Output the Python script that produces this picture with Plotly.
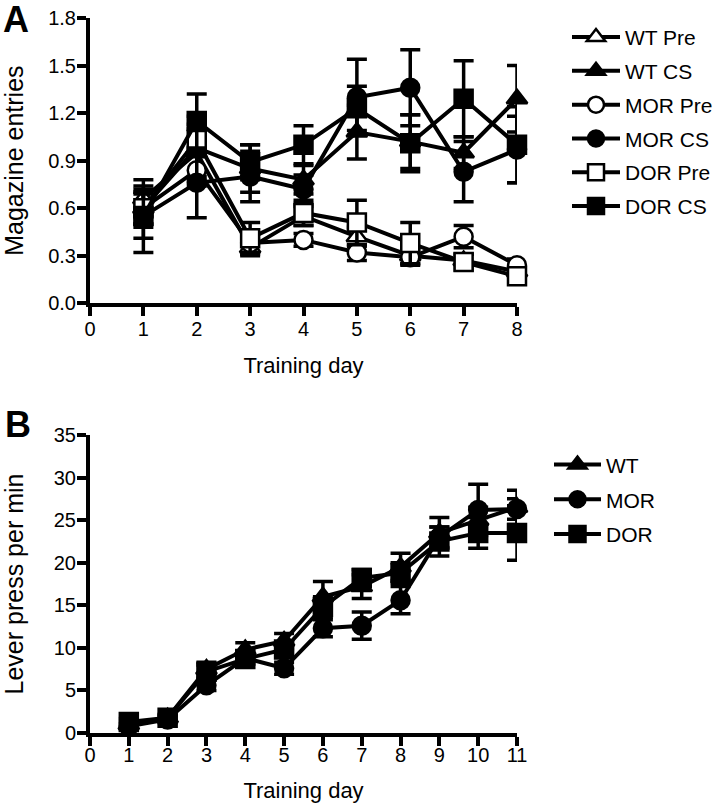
import plotly.graph_objects as go

# Panel A: magazine entries, training days 1-8
days_a = [1, 2, 3, 4, 5, 6, 7, 8]
wt_pre = [0.66, 0.95, 0.35, 0.55, 0.42, 0.30, 0.27, 0.20]
wt_pre_err = [0.08, 0.15, 0.05, 0.06, 0.06, 0.05, 0.04, 0.04]
wt_cs = [0.60, 0.98, 0.85, 0.78, 1.08, 1.02, 0.95, 1.29]
wt_cs_err = [0.12, 0.20, 0.15, 0.09, 0.17, 0.17, 0.10, 0.21]
mor_pre = [0.60, 0.84, 0.38, 0.40, 0.32, 0.29, 0.42, 0.24]
mor_pre_err = [0.10, 0.10, 0.06, 0.04, 0.05, 0.05, 0.07, 0.04]
mor_cs = [0.55, 0.76, 0.80, 0.72, 1.30, 1.36, 0.83, 0.97]
mor_cs_err = [0.23, 0.22, 0.16, 0.09, 0.24, 0.24, 0.19, 0.21]
dor_pre = [0.60, 1.03, 0.41, 0.57, 0.51, 0.38, 0.26, 0.17]
dor_pre_err = [0.10, 0.10, 0.10, 0.08, 0.14, 0.13, 0.05, 0.05]
dor_cs = [0.55, 1.15, 0.89, 1.00, 1.23, 1.01, 1.29, 1.00]
dor_cs_err = [0.14, 0.17, 0.11, 0.12, 0.14, 0.18, 0.24, 0.24]

# Panel B: lever presses per min, training days 1-11
days_b = [1, 2, 3, 4, 5, 6, 7, 8, 9, 10, 11]
wt_lp = [1.0, 1.8, 7.5, 9.8, 10.8, 16.0, 17.2, 19.5, 23.5, 25.0, 26.5]
wt_lp_err = [0.3, 0.4, 0.8, 0.8, 0.9, 1.8, 1.4, 1.6, 1.8, 1.5, 2.0]
mor_lp = [0.8, 1.6, 5.6, 8.8, 7.6, 12.3, 12.6, 15.6, 23.0, 26.2, 26.3]
mor_lp_err = [0.3, 0.4, 0.6, 0.7, 0.7, 1.0, 1.6, 1.6, 1.2, 3.0, 1.2]
dor_lp = [1.3, 1.8, 7.2, 8.7, 9.8, 14.8, 18.2, 18.8, 22.5, 23.5, 23.5]
dor_lp_err = [0.4, 0.3, 0.8, 0.6, 0.9, 1.2, 1.0, 1.2, 1.7, 1.8, 3.2]

FONT = "Liberation Sans, Arial, sans-serif"


def series(x, y, err, name, symbol, filled, xa, ya, legend):
    return go.Scatter(
        x=x, y=y, name=name, mode="lines+markers",
        xaxis=xa, yaxis=ya, legend=legend, legendgroup=name,
        line=dict(color="black", width=4),
        marker=dict(symbol=symbol, size=18,
                    color="black" if filled else "white",
                    line=dict(color="black", width=2.5)),
        error_y=dict(type="data", array=err, color="black",
                     thickness=3.5, width=10),
        cliponaxis=False,
    )


fig = go.Figure()
fig.add_trace(series(days_a, wt_pre, wt_pre_err, "WT Pre", "triangle-up", False, "x", "y", "legend"))
fig.add_trace(series(days_a, wt_cs, wt_cs_err, "WT CS", "triangle-up", True, "x", "y", "legend"))
fig.add_trace(series(days_a, mor_pre, mor_pre_err, "MOR Pre", "circle", False, "x", "y", "legend"))
fig.add_trace(series(days_a, mor_cs, mor_cs_err, "MOR CS", "circle", True, "x", "y", "legend"))
fig.add_trace(series(days_a, dor_pre, dor_pre_err, "DOR Pre", "square", False, "x", "y", "legend"))
fig.add_trace(series(days_a, dor_cs, dor_cs_err, "DOR CS", "square", True, "x", "y", "legend"))

fig.add_trace(series(days_b, wt_lp, wt_lp_err, "WT", "triangle-up", True, "x2", "y2", "legend2"))
fig.add_trace(series(days_b, mor_lp, mor_lp_err, "MOR", "circle", True, "x2", "y2", "legend2"))
fig.add_trace(series(days_b, dor_lp, dor_lp_err, "DOR", "square", True, "x2", "y2", "legend2"))

axis_style = dict(
    showline=True, linecolor="black", linewidth=4,
    ticks="outside", ticklen=9, tickwidth=3.5, tickcolor="black",
    showgrid=False, zeroline=False, automargin=False,
    tickfont=dict(family=FONT, size=20, color="black"),
)

fig.update_layout(
    width=720, height=805,
    margin=dict(l=90, r=203, t=18, b=72),
    paper_bgcolor="white", plot_bgcolor="white",
    font=dict(family=FONT, color="black"),
    xaxis=dict(axis_style, domain=[0, 1], anchor="y", range=[0, 8], dtick=1,
               ticklabelstandoff=-4,
               title=dict(text="Training day", font=dict(size=22), standoff=19)),
    yaxis=dict(axis_style, domain=[0.601, 1], anchor="x", range=[0, 1.8], dtick=0.3,
               tickformat=".1f", ticklabelstandoff=-3,
               title=dict(text="Magazine entries", font=dict(size=25), standoff=22)),
    xaxis2=dict(axis_style, domain=[0, 1], anchor="y2", range=[0, 11], dtick=1,
                ticklabelstandoff=-8,
                title=dict(text="Training day", font=dict(size=22), standoff=19)),
    yaxis2=dict(axis_style, domain=[0, 0.4168], anchor="x2", range=[0, 35], dtick=5,
                ticklabelstandoff=-3,
                title=dict(text="Lever press per min", font=dict(size=25), standoff=30)),
    legend=dict(x=0.7875, y=0.979, xref="container", yref="container",
                xanchor="left", yanchor="top", itemwidth=48,
                font=dict(size=21), tracegroupgap=3.5, bgcolor="rgba(0,0,0,0)"),
    legend2=dict(x=0.7625, y=0.448, xref="container", yref="container",
                 xanchor="left", yanchor="top", itemwidth=47,
                 font=dict(size=21), tracegroupgap=4.5, bgcolor="rgba(0,0,0,0)"),
    annotations=[
        dict(text="<b>A</b>", x=-0.1733, y=0.9986, xref="paper", yref="paper",
             xanchor="center", yanchor="middle", showarrow=False,
             font=dict(size=36)),
        dict(text="<b>B</b>", x=-0.1686, y=0.4308, xref="paper", yref="paper",
             xanchor="center", yanchor="middle", showarrow=False,
             font=dict(size=36)),
    ],
)

# drop the default 8px page margin so the figure sits at the window's corner
fig.write_html("out.html", config={"displayModeBar": False},
               post_script="document.body.style.margin='0px';")
